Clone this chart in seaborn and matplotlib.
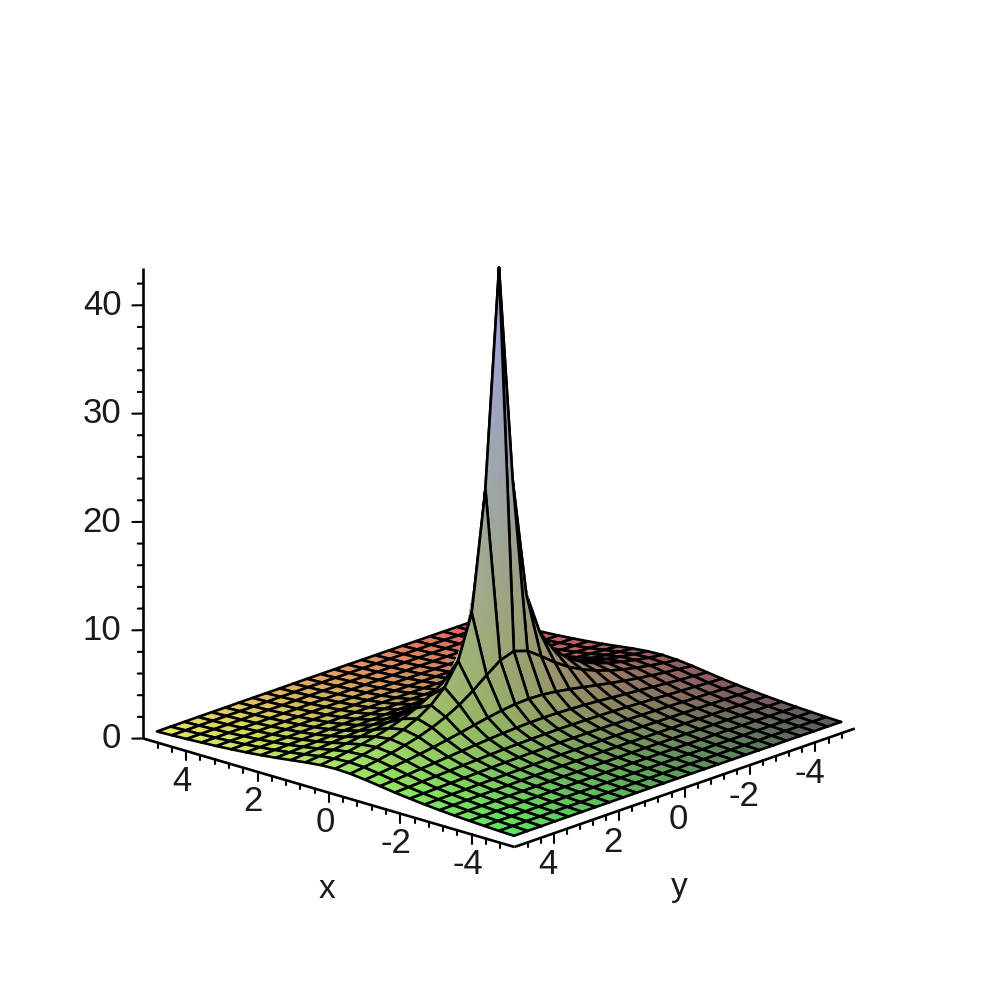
import numpy as np
import matplotlib
matplotlib.use('Agg')
import matplotlib.pyplot as plt
from mpl_toolkits.mplot3d import proj3d
import seaborn as sns

sns.set_style('white')
plt.rcParams['font.family'] = ['Liberation Sans', 'DejaVu Sans']

# one quarter of the 25x25 mesh, centre first (rows step along x, columns along y)
quarter_z = [
    [43.0, 23.0, 12.0, 8.00, 6.00, 4.80, 4.00, 3.43, 3.00, 2.67, 2.40, 2.18, 2.00],
    [8.00, 7.59, 6.66, 5.66, 4.80, 4.12, 3.58, 3.15, 2.81, 2.53, 2.30, 2.10, 1.94],
    [4.00, 3.95, 3.79, 3.58, 3.33, 3.07, 2.83, 2.60, 2.40, 2.22, 2.06, 1.92, 1.79],
    [2.67, 2.65, 2.60, 2.53, 2.44, 2.33, 2.22, 2.11, 1.99, 1.89, 1.78, 1.69, 1.60],
    [2.00, 1.99, 1.97, 1.94, 1.90, 1.85, 1.79, 1.73, 1.66, 1.60, 1.54, 1.47, 1.41],
    [1.60, 1.60, 1.59, 1.57, 1.55, 1.52, 1.49, 1.45, 1.41, 1.37, 1.33, 1.29, 1.25],
    [1.33, 1.33, 1.33, 1.32, 1.30, 1.28, 1.26, 1.24, 1.22, 1.19, 1.17, 1.14, 1.11],
    [1.14, 1.14, 1.14, 1.13, 1.12, 1.11, 1.10, 1.08, 1.07, 1.05, 1.03, 1.01, 0.99],
    [1.00, 1.00, 1.00, 0.99, 0.99, 0.98, 0.97, 0.96, 0.95, 0.94, 0.92, 0.91, 0.89],
    [0.89, 0.89, 0.89, 0.88, 0.88, 0.87, 0.87, 0.86, 0.85, 0.84, 0.83, 0.82, 0.81],
    [0.80, 0.80, 0.80, 0.80, 0.79, 0.79, 0.78, 0.78, 0.77, 0.76, 0.76, 0.75, 0.74],
    [0.73, 0.73, 0.73, 0.72, 0.72, 0.72, 0.71, 0.71, 0.71, 0.70, 0.70, 0.69, 0.68],
    [0.67, 0.67, 0.67, 0.66, 0.66, 0.66, 0.66, 0.65, 0.65, 0.65, 0.64, 0.64, 0.63],
]
axis_ticks = [-4, -2, 0, 2, 4]
axis_minor = [-4.8, -4.4, -3.6, -3.2, -2.8, -2.4, -1.6, -1.2, -0.8, -0.4,
              0.4, 0.8, 1.2, 1.6, 2.4, 2.8, 3.2, 3.6, 4.4, 4.8]
z_ticks = [0, 10, 20, 30, 40]
z_minor = [2, 4, 6, 8, 12, 14, 16, 18, 22, 24, 26, 28, 32, 34, 36, 38, 42]

LIM = 5.2
ZTOP = 43.4
TEXT = '#1a1a1a'

q = np.array(quarter_z)
half = np.hstack([q[:, :0:-1], q])
Z = np.vstack([half[:0:-1], half])
x = np.linspace(-5, 5, 25)


def draw_cell(ax, i, j, order):
    """One mesh cell: smooth shading inside, black outline on top"""
    # the table values stay at the corners, the split is only for the colour gradient
    n = 8 if max(abs(i - 11.5), abs(j - 11.5)) < 3 else 2
    u, v = np.meshgrid(np.linspace(0, 1, n + 1), np.linspace(0, 1, n + 1), indexing='ij')
    cx = x[i] + (x[i + 1] - x[i]) * u
    cy = x[j] + (x[j + 1] - x[j]) * v
    cz = (Z[i, j] * (1 - u) * (1 - v) + Z[i + 1, j] * u * (1 - v)
          + Z[i, j + 1] * (1 - u) * v + Z[i + 1, j + 1] * u * v)
    # red follows x, green follows y, blue follows height, washed out a bit
    rgb = np.dstack([(cx + 5) / 10, (cy + 5) / 10, cz / 43])
    ax.plot_surface(cx, cy, cz, facecolors=0.36 + 0.55 * rgb, rstride=1, cstride=1,
                    shade=False, linewidth=0, antialiased=False, zorder=order)
    ax.plot([x[i], x[i + 1], x[i + 1], x[i], x[i]],
            [x[j], x[j], x[j + 1], x[j + 1], x[j]],
            [Z[i, j], Z[i + 1, j], Z[i + 1, j + 1], Z[i, j + 1], Z[i, j]],
            color='black', lw=1.9, solid_joinstyle='round', solid_capstyle='round',
            zorder=order + 0.5)


def label(ax, px, py, pz, text, **kw):
    """Put a text at a 3D spot, as plain 2D text on the projected position"""
    sx, sy, _ = proj3d.proj_transform(px, py, pz, ax.get_proj())
    ax.text2D(sx, sy, text, transform=ax.transData, color=TEXT, va='center', **kw)


fig = plt.figure(figsize=(9.97, 9.97), dpi=100)
ax = fig.add_axes([-0.013, -0.0135, 1, 1], projection='3d', computed_zorder=False)
ax.set_proj_type('ortho')
ax.view_init(elev=18.6, azim=132.5)
ax.set_xlim(-LIM, LIM)
ax.set_ylim(-LIM, LIM)
ax.set_zlim(0, ZTOP)
ax.set_box_aspect((1, 1, 0.985), zoom=0.845)
ax.set_xticks([])
ax.set_yticks([])
ax.set_zticks([])
ax.set_axis_off()

# camera sits on the -x, +y side, so paint cells from +x, -y towards it
order = 2
for i in range(23, -1, -1):
    for j in range(24):
        draw_cell(ax, i, j, order)
        order += 1

# axis lines along the front edges plus the upright one
line_kw = dict(color='black', lw=1.9, zorder=1, solid_capstyle='butt')
ax.plot([LIM, -LIM], [LIM, LIM], [0, 0], **line_kw)
ax.plot([-LIM, -LIM], [LIM, -LIM], [0, 0], **line_kw)
ax.plot([LIM, LIM], [LIM, LIM], [0, ZTOP], **line_kw)

tick_kw = dict(color='black', lw=1.5, zorder=1)
for t in axis_ticks:
    ax.plot([t, t], [LIM, LIM], [0, -0.85], **tick_kw)
    ax.plot([-LIM, -LIM], [t, t], [0, -0.85], **tick_kw)
    label(ax, t + 0.06, LIM + 0.06, -2.77, str(t), fontsize=25, ha='center')
    label(ax, -LIM + 0.086, t + 0.086, -2.9, str(t), fontsize=25, ha='center')
for t in axis_minor:
    ax.plot([t, t], [LIM, LIM], [0, -0.45], **tick_kw)
    ax.plot([-LIM, -LIM], [t, t], [0, -0.45], **tick_kw)
for t in z_ticks:
    ax.plot([LIM, LIM + 0.16], [LIM, LIM + 0.16], [t, t], **tick_kw)
    label(ax, LIM + 0.32, LIM + 0.32, t, str(t), fontsize=25, ha='right')
for t in z_minor:
    ax.plot([LIM, LIM + 0.08], [LIM, LIM + 0.08], [t, t], **tick_kw)

label(ax, -0.3, LIM + 0.4, -8.25, 'x', fontsize=24, ha='center')
label(ax, -LIM - 0.25, 0.45, -8.5, 'y', fontsize=24, ha='center')

fig.savefig('out.png', dpi=100, facecolor='white')
